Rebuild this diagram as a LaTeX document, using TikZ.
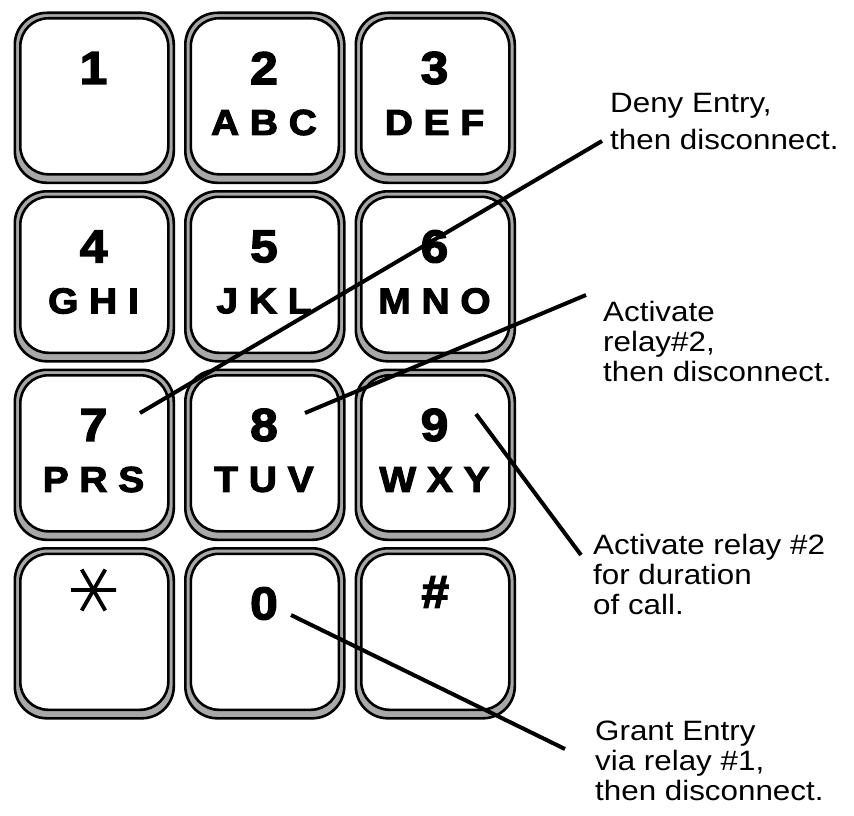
\documentclass[tikz,border=0pt]{standalone}
\usepackage{fontspec}
\usetikzlibrary{calc}
\setmainfont{Liberation Sans}[FakeStretch=1.12]
\newfontfamily\keyfont{Liberation Sans}[BoldFeatures={FakeBold=3,FakeStretch=1.08},BoldItalicFeatures={FakeBold=3,FakeStretch=1.08}]
\definecolor{keygray}{RGB}{168,168,168}
\begin{document}
\begin{tikzpicture}[x=1pt,y=-1pt,
  keyouter/.style={draw, line width=2.6pt, fill=keygray, rounded corners=32pt,
    minimum width=159pt, minimum height=170pt, inner sep=0pt, anchor=north west},
  keyinner/.style={draw, line width=2.6pt, fill=white, rounded corners=28pt,
    minimum width=148pt, minimum height=156pt, inner sep=0pt, anchor=north west},
  digit/.style={inner sep=0pt, font=\keyfont\bfseries\fontsize{46}{46}\selectfont},
  letters/.style={inner sep=0pt, font=\keyfont\bfseries\fontsize{36}{36}\selectfont},
  lbl/.style={inner sep=0pt, anchor=base west, font=\fontsize{28}{28}\selectfont},
  leader/.style={line width=4pt}]
\useasboundingbox (0,0) rectangle (854,816);
\foreach \n/\c/\r/\dig/\ltr in {1/0/0/1/{}, 2/1/0/2/{A B C}, 3/2/0/3/{D E F},
  4/0/1/4/{G H I}, 5/1/1/5/{J K L}, 6/2/1/6/{M N O},
  7/0/2/7/{P R S}, 8/1/2/8/{T U V}, 9/2/2/9/{W X Y},
  10/0/3/{}/{}, 11/1/3/0/{}, 12/2/3/{}/{}}{
  \pgfmathsetmacro\X{13.5+170.5*\c}
  \pgfmathsetmacro\Y{11.5+178.5*\r}
  \node[keyouter] (ko\n) at (\X,\Y) {};
  \node[keyinner] (ki\n) at (\X+5.5,\Y+5.5) {};
  \node[digit] (d\n) at (\X+80,\Y+56.5) {\dig};
  \node[letters] (t\n) at (\X+80,\Y+111) {\ltr};
}
% star on key *
\coordinate (star) at (93.5,590);
\draw[line width=3.8pt] ($(star)+(-22.5,0)$) -- ($(star)+(22.5,0)$)
  ($(star)+(-11.8,-20.5)$) -- ($(star)+(11.8,20.5)$)
  ($(star)+(11.8,-20.5)$) -- ($(star)+(-11.8,20.5)$);
% hash on key #
\node[digit, font=\keyfont\bfseries\itshape\fontsize{46}{46}\selectfont] (hash) at (434.5,592) {\#};
% leader start and end points
\coordinate (s1) at (140,413);
\coordinate (e1) at (602,141);
\coordinate (s2) at (305,413);
\coordinate (e2) at (586,295);
\coordinate (s3) at (476,414);
\coordinate (e3) at (581,555);
\coordinate (s4) at (291,615);
\coordinate (e4) at (565,749);
\draw[leader] (s1) -- (e1);
\draw[leader] (s2) -- (e2);
\draw[leader] (s3) -- (e3);
\draw[leader] (s4) -- (e4);
% labels
\node[lbl] (l1a) at (610,112) {Deny Entry,};
\node[lbl] (l1b) at (610,149) {then disconnect.};
\node[lbl] (l2a) at (603,321) {Activate};
\node[lbl] (l2b) at (603,351) {relay\#2,};
\node[lbl] (l2c) at (603,381) {then disconnect.};
\node[lbl] (l3a) at (593,554) {Activate relay \#2};
\node[lbl] (l3b) at (593,584) {for duration};
\node[lbl] (l3c) at (593,614) {of call.};
\node[lbl] (l4a) at (595,740) {Grant Entry};
\node[lbl] (l4b) at (595,770) {via relay \#1,};
\node[lbl] (l4c) at (595,800) {then disconnect.};
\end{tikzpicture}
\end{document}
